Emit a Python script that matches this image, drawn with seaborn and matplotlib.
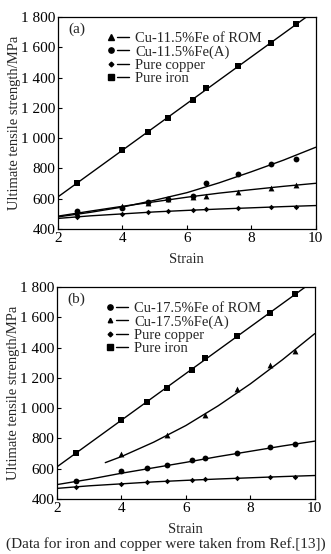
import matplotlib
matplotlib.use("Agg")
import matplotlib.pyplot as plt
from matplotlib.lines import Line2D
from matplotlib.legend_handler import HandlerTuple
from matplotlib.ticker import FuncFormatter
import seaborn as sns
import pandas as pd

sns.set_style("ticks")
plt.rcParams["font.family"] = ["Liberation Serif", "DejaVu Serif"]

# measured strain points
strain = [2.6, 4.0, 4.8, 5.4, 6.2, 6.6, 7.6, 8.6, 9.4]
strain_a17 = [4.0, 5.4, 6.6, 7.6, 8.6, 9.4]

# measured strengths (MPa)
iron_pts = [705, 920, 1040, 1135, 1250, 1330, 1475, 1630, 1755]
copper_pts = [481, 502, 510, 520, 525, 530, 540, 545, 548]
a11_pts = [520, 540, 580, 600, 620, 705, 765, 830, 865]
rom11_pts = [505, 550, 575, 595, 610, 620, 645, 670, 690]
rom17_pts = [522, 583, 605, 625, 655, 670, 705, 740, 765]
a17_pts = [700, 820, 955, 1125, 1285, 1375]

# fitted curves
fit_x = [2, 3, 4, 5, 6, 7, 8, 9, 10]
iron_fit_x = [2, 10]
iron_fit = [612, 1845]
copper_fit = [470, 487, 500, 513, 523, 532, 540, 548, 555]
a11_fit = [480, 510, 545, 590, 640, 705, 778, 855, 940]
rom11_fit = [485, 518, 550, 580, 610, 637, 660, 682, 702]
rom17_fit = [495, 530, 570, 606, 642, 680, 715, 750, 782]
a17_fit_x = [3.5, 4, 5, 6, 7, 8, 9, 10]
a17_fit = [640, 680, 775, 885, 1015, 1160, 1320, 1492]

y_ticks = [400, 600, 800, 1000, 1200, 1400, 1600, 1800]
x_ticks = [2, 4, 6, 8, 10]

fig = plt.figure(figsize=(3.31, 5.54), dpi=100)
ax_a = fig.add_axes([0.175, 0.5866, 0.779, 0.3827])
ax_b = fig.add_axes([0.172, 0.0993, 0.779, 0.3827])

LW = 1.0
MS = 3.8


def draw(ax, x, y, fx, fy, marker, ms):
    pts = pd.DataFrame({"x": x, "y": y})
    fit = pd.DataFrame({"x": fx, "y": fy})
    sns.lineplot(data=fit, x="x", y="y", ax=ax, color="black", lw=LW,
                 sort=False, estimator=None)
    sns.scatterplot(data=pts, x="x", y="y", ax=ax, color="black",
                    marker=marker, s=ms ** 2, linewidth=0, zorder=3)


def style(ax, tag, labels, markers, sizes):
    ax.set_xlim(2, 10)
    ax.set_ylim(400, 1800)
    ax.set_xticks(x_ticks)
    ax.set_yticks(y_ticks)
    ax.yaxis.set_major_formatter(FuncFormatter(
        lambda v, p: f"{int(v):,}".replace(",", " ")))
    ax.tick_params(direction="in", length=3, width=0.8, labelsize=11,
                   pad=2, colors="black")
    for s in ax.spines.values():
        s.set_visible(True)
        s.set_linewidth(0.9)
        s.set_color("black")
    ax.set_xlabel("Strain", fontsize=10.5, labelpad=6)
    ax.set_ylabel("Ultimate tensile strength/MPa", fontsize=10.5, labelpad=0)
    ax.text(0.04, 0.94, tag, transform=ax.transAxes, fontsize=11,
            va="center", ha="left")
    handles = []
    for m, s in zip(markers, sizes):
        handles.append((Line2D([], [], color="black", marker=m, ms=s, lw=0),
                        Line2D([], [], color="black", lw=LW)))
    ax.legend(handles, labels, handler_map={tuple: HandlerTuple(ndivide=None, pad=0.0)},
              loc="upper left", bbox_to_anchor=(0.135, 0.985), frameon=False,
              fontsize=10.5, handlelength=1.7, handletextpad=0.4,
              labelspacing=0.0, borderpad=0.3)


# panel (a)
draw(ax_a, strain, iron_pts, iron_fit_x, iron_fit, "s", MS)
draw(ax_a, strain, a11_pts, fit_x, a11_fit, "o", MS + 0.4)
draw(ax_a, strain, rom11_pts, fit_x, rom11_fit, "^", MS + 0.4)
draw(ax_a, strain, copper_pts, fit_x, copper_fit, "D", MS - 1.0)
style(ax_a, "(a)",
      ["Cu-11.5%Fe of ROM", "Cu-11.5%Fe(A)", "Pure copper", "Pure iron"],
      ["^", "o", "D", "s"], [MS, MS, MS - 1.4, MS])

# panel (b)
draw(ax_b, strain, iron_pts, iron_fit_x, iron_fit, "s", MS)
draw(ax_b, strain_a17, a17_pts, a17_fit_x, a17_fit, "^", MS + 0.4)
draw(ax_b, strain, rom17_pts, fit_x, rom17_fit, "o", MS + 0.4)
draw(ax_b, strain, copper_pts, fit_x, copper_fit, "D", MS - 1.0)
style(ax_b, "(b)",
      ["Cu-17.5%Fe of ROM", "Cu-17.5%Fe(A)", "Pure copper", "Pure iron"],
      ["o", "^", "D", "s"], [MS, MS - 0.6, MS - 1.4, MS])

fig.text(0.5, 0.018, "(Data for iron and copper were taken from Ref.[13])",
         ha="center", va="center", fontsize=11)

fig.savefig("out.png", dpi=100)
